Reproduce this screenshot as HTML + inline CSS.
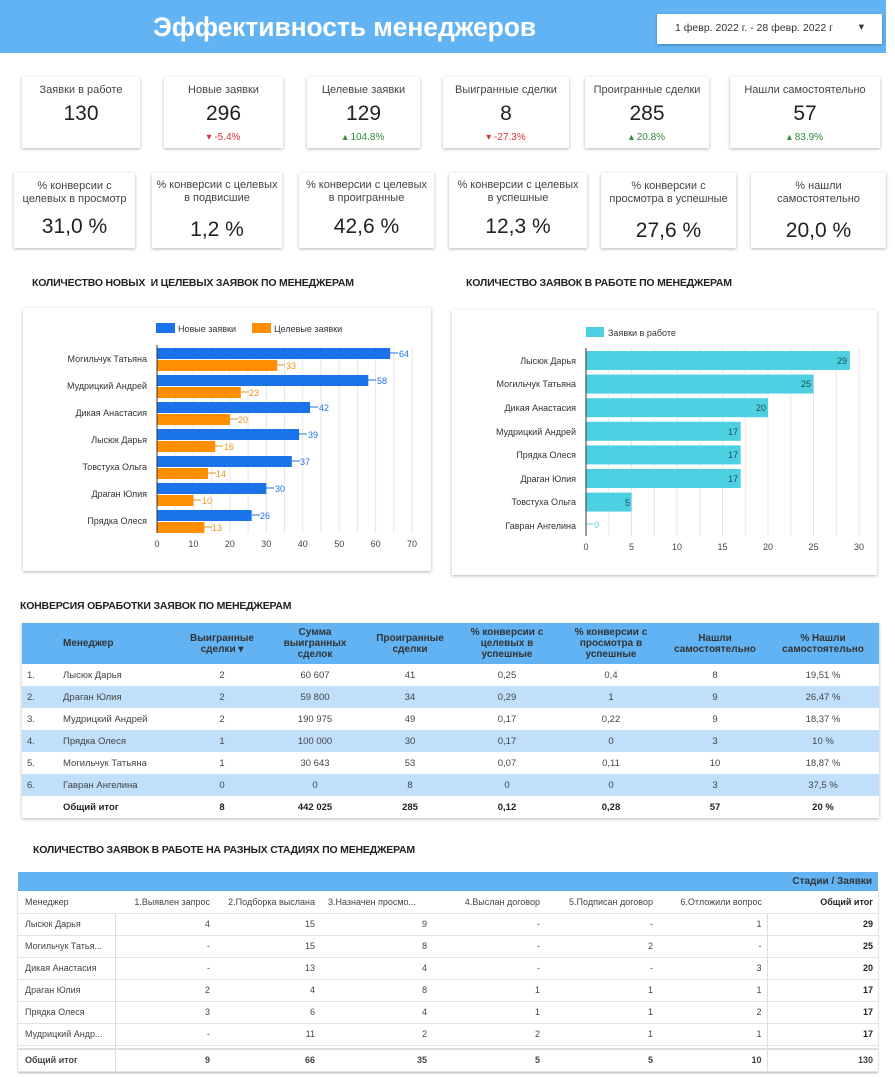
<!DOCTYPE html>
<html><head><meta charset="utf-8"><style>
*{margin:0;padding:0;box-sizing:border-box}
body{width:895px;height:1077px;background:#fff;position:relative;overflow:hidden;font-family:"Liberation Sans",sans-serif;color:#333}
.a{position:absolute}
.card{position:absolute;background:#fff;box-shadow:0 1px 3px rgba(0,0,0,.3);text-align:center}
.t{font-size:11px;color:#444;line-height:13px}
.v{font-size:21px;color:#222}
.st{position:absolute;font-size:10.5px;font-weight:bold;color:#222;letter-spacing:-.2px}
table{border-collapse:collapse}
.t1 td{height:22px;font-size:9.5px;color:#444;text-align:center}
.t1 th{font-size:10px;color:#333;font-weight:bold;text-align:center;line-height:11px}
.t2 td{height:22px;font-size:9px;color:#444;text-align:right;padding-right:5px;border-bottom:1px solid #e4e4e4}
</style></head><body>
<div class="a" style="left:0;top:0;width:886px;height:53px;background:#61b3f4"></div>
<div class="a" style="left:153px;top:12px;font-size:26.5px;font-weight:bold;color:#fff;letter-spacing:-.1px">Эффективность менеджеров</div>
<div class="a" style="left:657px;top:14px;width:225px;height:30px;background:#fff;box-shadow:0 1px 3px rgba(0,0,0,.3);font-size:10.5px;color:#333;padding:8px 0 0 18px">1 февр. 2022 г. - 28 февр. 2022 г<span style="position:absolute;right:18px;top:7px">▾</span></div>

<div class="card" style="left:22px;top:77px;width:118px;height:71px"><div class="t" style="margin-top:7px">Заявки в работе</div><div class="v" style="margin-top:5px">130</div></div>
<div class="card" style="left:164px;top:77px;width:119px;height:71px"><div class="t" style="margin-top:7px">Новые заявки</div><div class="v" style="margin-top:5px">296</div><div style="font-size:10px;color:#d33;margin-top:6px">▾ -5.4%</div></div>
<div class="card" style="left:307px;top:77px;width:113px;height:71px"><div class="t" style="margin-top:7px">Целевые заявки</div><div class="v" style="margin-top:5px">129</div><div style="font-size:10px;color:#2e8b3a;margin-top:6px">▴ 104.8%</div></div>
<div class="card" style="left:443px;top:77px;width:126px;height:71px"><div class="t" style="margin-top:7px">Выигранные сделки</div><div class="v" style="margin-top:5px">8</div><div style="font-size:10px;color:#d33;margin-top:6px">▾ -27.3%</div></div>
<div class="card" style="left:585px;top:77px;width:124px;height:71px"><div class="t" style="margin-top:7px">Проигранные сделки</div><div class="v" style="margin-top:5px">285</div><div style="font-size:10px;color:#2e8b3a;margin-top:6px">▴ 20.8%</div></div>
<div class="card" style="left:730px;top:77px;width:150px;height:71px"><div class="t" style="margin-top:7px">Нашли самостоятельно</div><div class="v" style="margin-top:5px">57</div><div style="font-size:10px;color:#2e8b3a;margin-top:6px">▴ 83.9%</div></div>

<div class="card" style="left:14px;top:173px;width:121px;height:75px"><div class="t" style="margin-top:7px">% конверсии с<br>целевых в просмотр</div><div class="v" style="margin-top:9px">31,0 %</div></div>
<div class="card" style="left:152px;top:173px;width:130px;height:75px"><div class="t" style="margin-top:6px">% конверсии с целевых<br>в подвисшие</div><div class="v" style="margin-top:13px">1,2 %</div></div>
<div class="card" style="left:299px;top:173px;width:135px;height:75px"><div class="t" style="margin-top:6px">% конверсии с целевых<br>в проигранные</div><div class="v" style="margin-top:10px">42,6 %</div></div>
<div class="card" style="left:449px;top:173px;width:138px;height:75px"><div class="t" style="margin-top:6px">% конверсии с целевых<br>в успешные</div><div class="v" style="margin-top:10px">12,3 %</div></div>
<div class="card" style="left:601px;top:173px;width:135px;height:75px"><div class="t" style="margin-top:7px">% конверсии с<br>просмотра в успешные</div><div class="v" style="margin-top:13px">27,6 %</div></div>
<div class="card" style="left:751px;top:173px;width:135px;height:75px"><div class="t" style="margin-top:7px">% нашли<br>самостоятельно</div><div class="v" style="margin-top:13px">20,0 %</div></div>

<div class="st" style="left:32px;top:277px">КОЛИЧЕСТВО НОВЫХ &nbsp;И ЦЕЛЕВЫХ ЗАЯВОК ПО МЕНЕДЖЕРАМ</div>
<div class="st" style="left:466px;top:277px">КОЛИЧЕСТВО ЗАЯВОК В РАБОТЕ ПО МЕНЕДЖЕРАМ</div>

<div class="card" style="left:23px;top:308px;width:408px;height:263px"></div>
<svg class="a" style="left:0;top:0" width="895" height="600" font-family="Liberation Sans, sans-serif">
<g stroke="#e6e6e6">
<line x1="175.2" y1="346" x2="175.2" y2="533"/><line x1="193.4" y1="346" x2="193.4" y2="533"/><line x1="211.6" y1="346" x2="211.6" y2="533"/><line x1="229.9" y1="346" x2="229.9" y2="533"/><line x1="248.1" y1="346" x2="248.1" y2="533"/><line x1="266.3" y1="346" x2="266.3" y2="533"/><line x1="284.5" y1="346" x2="284.5" y2="533"/><line x1="302.7" y1="346" x2="302.7" y2="533"/><line x1="320.9" y1="346" x2="320.9" y2="533"/><line x1="339.2" y1="346" x2="339.2" y2="533"/><line x1="357.4" y1="346" x2="357.4" y2="533"/><line x1="375.6" y1="346" x2="375.6" y2="533"/><line x1="393.8" y1="346" x2="393.8" y2="533"/><line x1="412" y1="346" x2="412" y2="533"/>
</g>
<rect x="156" y="323" width="19" height="10" fill="#1a73e8"/><text x="178" y="332" font-size="9" fill="#333">Новые заявки</text>
<rect x="252" y="323" width="19" height="10" fill="#ff8f00"/><text x="274" y="332" font-size="9" fill="#333">Целевые заявки</text>
<g fill="#1a73e8">
<rect x="157" y="348" width="233.2" height="11"/><rect x="157" y="375" width="211.3" height="11"/><rect x="157" y="402" width="153" height="11"/><rect x="157" y="429" width="142.1" height="11"/><rect x="157" y="456" width="134.8" height="11"/><rect x="157" y="483" width="109.3" height="11"/><rect x="157" y="510" width="94.7" height="11"/>
</g>
<g fill="#ff8f00">
<rect x="157" y="360" width="120.2" height="11"/><rect x="157" y="387" width="83.8" height="11"/><rect x="157" y="414" width="72.9" height="11"/><rect x="157" y="441" width="58.3" height="11"/><rect x="157" y="468" width="51" height="11"/><rect x="157" y="495" width="36.4" height="11"/><rect x="157" y="522" width="47.4" height="11"/>
</g>
<line x1="157" y1="345" x2="157" y2="533" stroke="#333"/>
<g font-size="9" fill="#1a73e8">
<text x="399" y="357">64</text><text x="377" y="384">58</text><text x="319" y="411">42</text><text x="308" y="438">39</text><text x="300" y="465">37</text><text x="275" y="492">30</text><text x="260" y="519">26</text></g>
<g font-size="9" fill="#e69520">
<text x="286" y="369">33</text><text x="249" y="396">23</text><text x="238" y="423">20</text><text x="224" y="450">16</text><text x="216" y="477">14</text><text x="202" y="504">10</text><text x="212" y="531">13</text></g>
<g stroke-width="1"><line x1="390" y1="353" x2="398" y2="353" stroke="#1a73e8"/><line x1="368" y1="380" x2="376" y2="380" stroke="#1a73e8"/><line x1="310" y1="407" x2="318" y2="407" stroke="#1a73e8"/><line x1="299" y1="434" x2="307" y2="434" stroke="#1a73e8"/><line x1="292" y1="461" x2="300" y2="461" stroke="#1a73e8"/><line x1="266" y1="488" x2="274" y2="488" stroke="#1a73e8"/><line x1="252" y1="515" x2="260" y2="515" stroke="#1a73e8"/>
<line x1="277" y1="365" x2="285" y2="365" stroke="#e69520"/><line x1="241" y1="392" x2="249" y2="392" stroke="#e69520"/><line x1="230" y1="419" x2="238" y2="419" stroke="#e69520"/><line x1="215" y1="446" x2="223" y2="446" stroke="#e69520"/><line x1="208" y1="473" x2="216" y2="473" stroke="#e69520"/><line x1="193" y1="500" x2="201" y2="500" stroke="#e69520"/><line x1="204" y1="527" x2="212" y2="527" stroke="#e69520"/></g>
<g font-size="9" fill="#333" text-anchor="end">
<text x="147" y="362">Могильчук Татьяна</text><text x="147" y="389">Мудрицкий Андрей</text><text x="147" y="416">Дикая Анастасия</text><text x="147" y="443">Лысюк Дарья</text><text x="147" y="470">Товстуха Ольга</text><text x="147" y="497">Драган Юлия</text><text x="147" y="524">Прядка Олеся</text></g>
<g font-size="9" fill="#444" text-anchor="middle">
<text x="157" y="547">0</text><text x="193.4" y="547">10</text><text x="229.9" y="547">20</text><text x="266.3" y="547">30</text><text x="302.7" y="547">40</text><text x="339.2" y="547">50</text><text x="375.6" y="547">60</text><text x="412" y="547">70</text></g>
</svg>

<div class="card" style="left:452px;top:310px;width:425px;height:265px"></div>
<svg class="a" style="left:0;top:0" width="895" height="600" font-family="Liberation Sans, sans-serif">
<g stroke="#e6e6e6">
<line x1="608.8" y1="348" x2="608.8" y2="536"/><line x1="631.5" y1="348" x2="631.5" y2="536"/><line x1="654.3" y1="348" x2="654.3" y2="536"/><line x1="677" y1="348" x2="677" y2="536"/><line x1="699.8" y1="348" x2="699.8" y2="536"/><line x1="722.5" y1="348" x2="722.5" y2="536"/><line x1="745.3" y1="348" x2="745.3" y2="536"/><line x1="768" y1="348" x2="768" y2="536"/><line x1="790.8" y1="348" x2="790.8" y2="536"/><line x1="813.5" y1="348" x2="813.5" y2="536"/><line x1="836.3" y1="348" x2="836.3" y2="536"/><line x1="859" y1="348" x2="859" y2="536"/>
</g>
<rect x="586" y="327" width="18" height="10" fill="#4dd0e1"/><text x="608" y="336" font-size="9" fill="#333">Заявки в работе</text>
<g fill="#4dd0e1">
<rect x="586" y="351" width="263.9" height="19"/><rect x="586" y="374.6" width="227.5" height="19"/><rect x="586" y="398.2" width="182" height="19"/><rect x="586" y="421.8" width="154.7" height="19"/><rect x="586" y="445.4" width="154.7" height="19"/><rect x="586" y="469" width="154.7" height="19"/><rect x="586" y="492.6" width="45.5" height="19"/></g>
<line x1="586" y1="348" x2="586" y2="536" stroke="#333"/>
<g font-size="9" fill="#1d4f57" text-anchor="end">
<text x="847" y="364">29</text><text x="811" y="387">25</text><text x="766" y="411">20</text><text x="738" y="435">17</text><text x="738" y="458">17</text><text x="738" y="482">17</text><text x="630" y="506">5</text></g>
<line x1="587" y1="524" x2="593" y2="524" stroke="#4dd0e1"/><text x="594" y="528" font-size="9" fill="#4dd0e1">0</text>
<g font-size="9" fill="#333" text-anchor="end">
<text x="576" y="364">Лысюк Дарья</text><text x="576" y="387">Могильчук Татьяна</text><text x="576" y="411">Дикая Анастасия</text><text x="576" y="435">Мудрицкий Андрей</text><text x="576" y="458">Прядка Олеся</text><text x="576" y="482">Драган Юлия</text><text x="576" y="505">Товстуха Ольга</text><text x="576" y="529">Гавран Ангелина</text></g>
<g font-size="9" fill="#444" text-anchor="middle">
<text x="586" y="550">0</text><text x="631.5" y="550">5</text><text x="677" y="550">10</text><text x="722.5" y="550">15</text><text x="768" y="550">20</text><text x="813.5" y="550">25</text><text x="859" y="550">30</text></g>
</svg>

<div class="st" style="left:20px;top:600px">КОНВЕРСИЯ ОБРАБОТКИ ЗАЯВОК ПО МЕНЕДЖЕРАМ</div>
<table class="t1 a" style="left:22px;top:623px;width:857px;box-shadow:0 1px 3px rgba(0,0,0,.3)">
<colgroup><col style="width:30px"><col style="width:127px"><col style="width:86px"><col style="width:100px"><col style="width:90px"><col style="width:104px"><col style="width:104px"><col style="width:104px"><col style="width:112px"></colgroup>
<tr style="background:#61b3f4;height:41px"><th></th><th style="text-align:left;padding-left:11px">Менеджер</th><th>Выигранные<br>сделки ▾</th><th>Сумма<br>выигранных<br>сделок</th><th>Проигранные<br>сделки</th><th>% конверсии с<br>целевых в<br>успешные</th><th>% конверсии с<br>просмотра в<br>успешные</th><th>Нашли<br>самостоятельно</th><th>% Нашли<br>самостоятельно</th></tr>
<tr><td style="text-align:left;padding-left:5px">1.</td><td style="text-align:left;padding-left:11px">Лысюк Дарья</td><td>2</td><td>60 607</td><td>41</td><td>0,25</td><td>0,4</td><td>8</td><td>19,51 %</td></tr>
<tr style="background:#bfdffb"><td style="text-align:left;padding-left:5px">2.</td><td style="text-align:left;padding-left:11px">Драган Юлия</td><td>2</td><td>59 800</td><td>34</td><td>0,29</td><td>1</td><td>9</td><td>26,47 %</td></tr>
<tr><td style="text-align:left;padding-left:5px">3.</td><td style="text-align:left;padding-left:11px">Мудрицкий Андрей</td><td>2</td><td>190 975</td><td>49</td><td>0,17</td><td>0,22</td><td>9</td><td>18,37 %</td></tr>
<tr style="background:#bfdffb"><td style="text-align:left;padding-left:5px">4.</td><td style="text-align:left;padding-left:11px">Прядка Олеся</td><td>1</td><td>100 000</td><td>30</td><td>0,17</td><td>0</td><td>3</td><td>10 %</td></tr>
<tr><td style="text-align:left;padding-left:5px">5.</td><td style="text-align:left;padding-left:11px">Могильчук Татьяна</td><td>1</td><td>30 643</td><td>53</td><td>0,07</td><td>0,11</td><td>10</td><td>18,87 %</td></tr>
<tr style="background:#bfdffb"><td style="text-align:left;padding-left:5px">6.</td><td style="text-align:left;padding-left:11px">Гавран Ангелина</td><td>0</td><td>0</td><td>8</td><td>0</td><td>0</td><td>3</td><td>37,5 %</td></tr>
<tr style="font-weight:bold"><td></td><td style="text-align:left;padding-left:11px;font-weight:bold;color:#222">Общий итог</td><td style="font-weight:bold;color:#222">8</td><td style="font-weight:bold;color:#222">442 025</td><td style="font-weight:bold;color:#222">285</td><td style="font-weight:bold;color:#222">0,12</td><td style="font-weight:bold;color:#222">0,28</td><td style="font-weight:bold;color:#222">57</td><td style="font-weight:bold;color:#222">20 %</td></tr>
</table>

<div class="st" style="left:33px;top:844px">КОЛИЧЕСТВО ЗАЯВОК В РАБОТЕ НА РАЗНЫХ СТАДИЯХ ПО МЕНЕДЖЕРАМ</div>
<div class="a" style="left:18px;top:872px;width:860px;height:19px;background:#61b3f4;font-size:10px;font-weight:bold;color:#333;text-align:right;padding:4px 6px 0 0">Стадии / Заявки</div>
<table class="t2 a" style="left:18px;top:891px;width:860px;box-shadow:0 1px 2px rgba(0,0,0,.3)">
<colgroup><col style="width:97px"><col style="width:100px"><col style="width:105px"><col style="width:112px"><col style="width:113px"><col style="width:113px"><col style="width:109px"><col style="width:111px"></colgroup>
<tr><td style="text-align:left;padding-left:7px">Менеджер</td><td>1.Выявлен запрос</td><td>2.Подборка выслана</td><td style="text-align:left;padding-left:8px">3.Назначен просмо...</td><td>4.Выслан договор</td><td>5.Подписан договор</td><td>6.Отложили вопрос</td><td style="font-weight:bold;color:#222">Общий итог</td></tr>
<tr><td style="text-align:left;padding-left:7px;border-right:1px solid #ddd">Лысюк Дарья</td><td>4</td><td>15</td><td>9</td><td>-</td><td>-</td><td>1</td><td style="font-weight:bold;color:#222;border-left:1px solid #ddd">29</td></tr>
<tr><td style="text-align:left;padding-left:7px;border-right:1px solid #ddd">Могильчук Татья...</td><td>-</td><td>15</td><td>8</td><td>-</td><td>2</td><td>-</td><td style="font-weight:bold;color:#222;border-left:1px solid #ddd">25</td></tr>
<tr><td style="text-align:left;padding-left:7px;border-right:1px solid #ddd">Дикая Анастасия</td><td>-</td><td>13</td><td>4</td><td>-</td><td>-</td><td>3</td><td style="font-weight:bold;color:#222;border-left:1px solid #ddd">20</td></tr>
<tr><td style="text-align:left;padding-left:7px;border-right:1px solid #ddd">Драган Юлия</td><td>2</td><td>4</td><td>8</td><td>1</td><td>1</td><td>1</td><td style="font-weight:bold;color:#222;border-left:1px solid #ddd">17</td></tr>
<tr><td style="text-align:left;padding-left:7px;border-right:1px solid #ddd">Прядка Олеся</td><td>3</td><td>6</td><td>4</td><td>1</td><td>1</td><td>2</td><td style="font-weight:bold;color:#222;border-left:1px solid #ddd">17</td></tr>
<tr><td style="text-align:left;padding-left:7px;border-right:1px solid #ddd">Мудрицкий Андр...</td><td>-</td><td>11</td><td>2</td><td>2</td><td>1</td><td>1</td><td style="font-weight:bold;color:#222;border-left:1px solid #ddd">17</td></tr>
<tr><td style="height:4px;border-right:1px solid #ddd;border-bottom:2px solid #ddd"></td><td style="height:4px;border-bottom:2px solid #ddd"></td><td style="height:4px;border-bottom:2px solid #ddd"></td><td style="height:4px;border-bottom:2px solid #ddd"></td><td style="height:4px;border-bottom:2px solid #ddd"></td><td style="height:4px;border-bottom:2px solid #ddd"></td><td style="height:4px;border-bottom:2px solid #ddd"></td><td style="height:4px;border-left:1px solid #ddd;border-bottom:2px solid #ddd"></td></tr>
<tr style="font-weight:bold;color:#222"><td style="text-align:left;padding-left:7px;border-right:1px solid #ddd">Общий итог</td><td>9</td><td>66</td><td>35</td><td>5</td><td>5</td><td>10</td><td style="border-left:1px solid #ddd">130</td></tr>
</table>
</body></html>
